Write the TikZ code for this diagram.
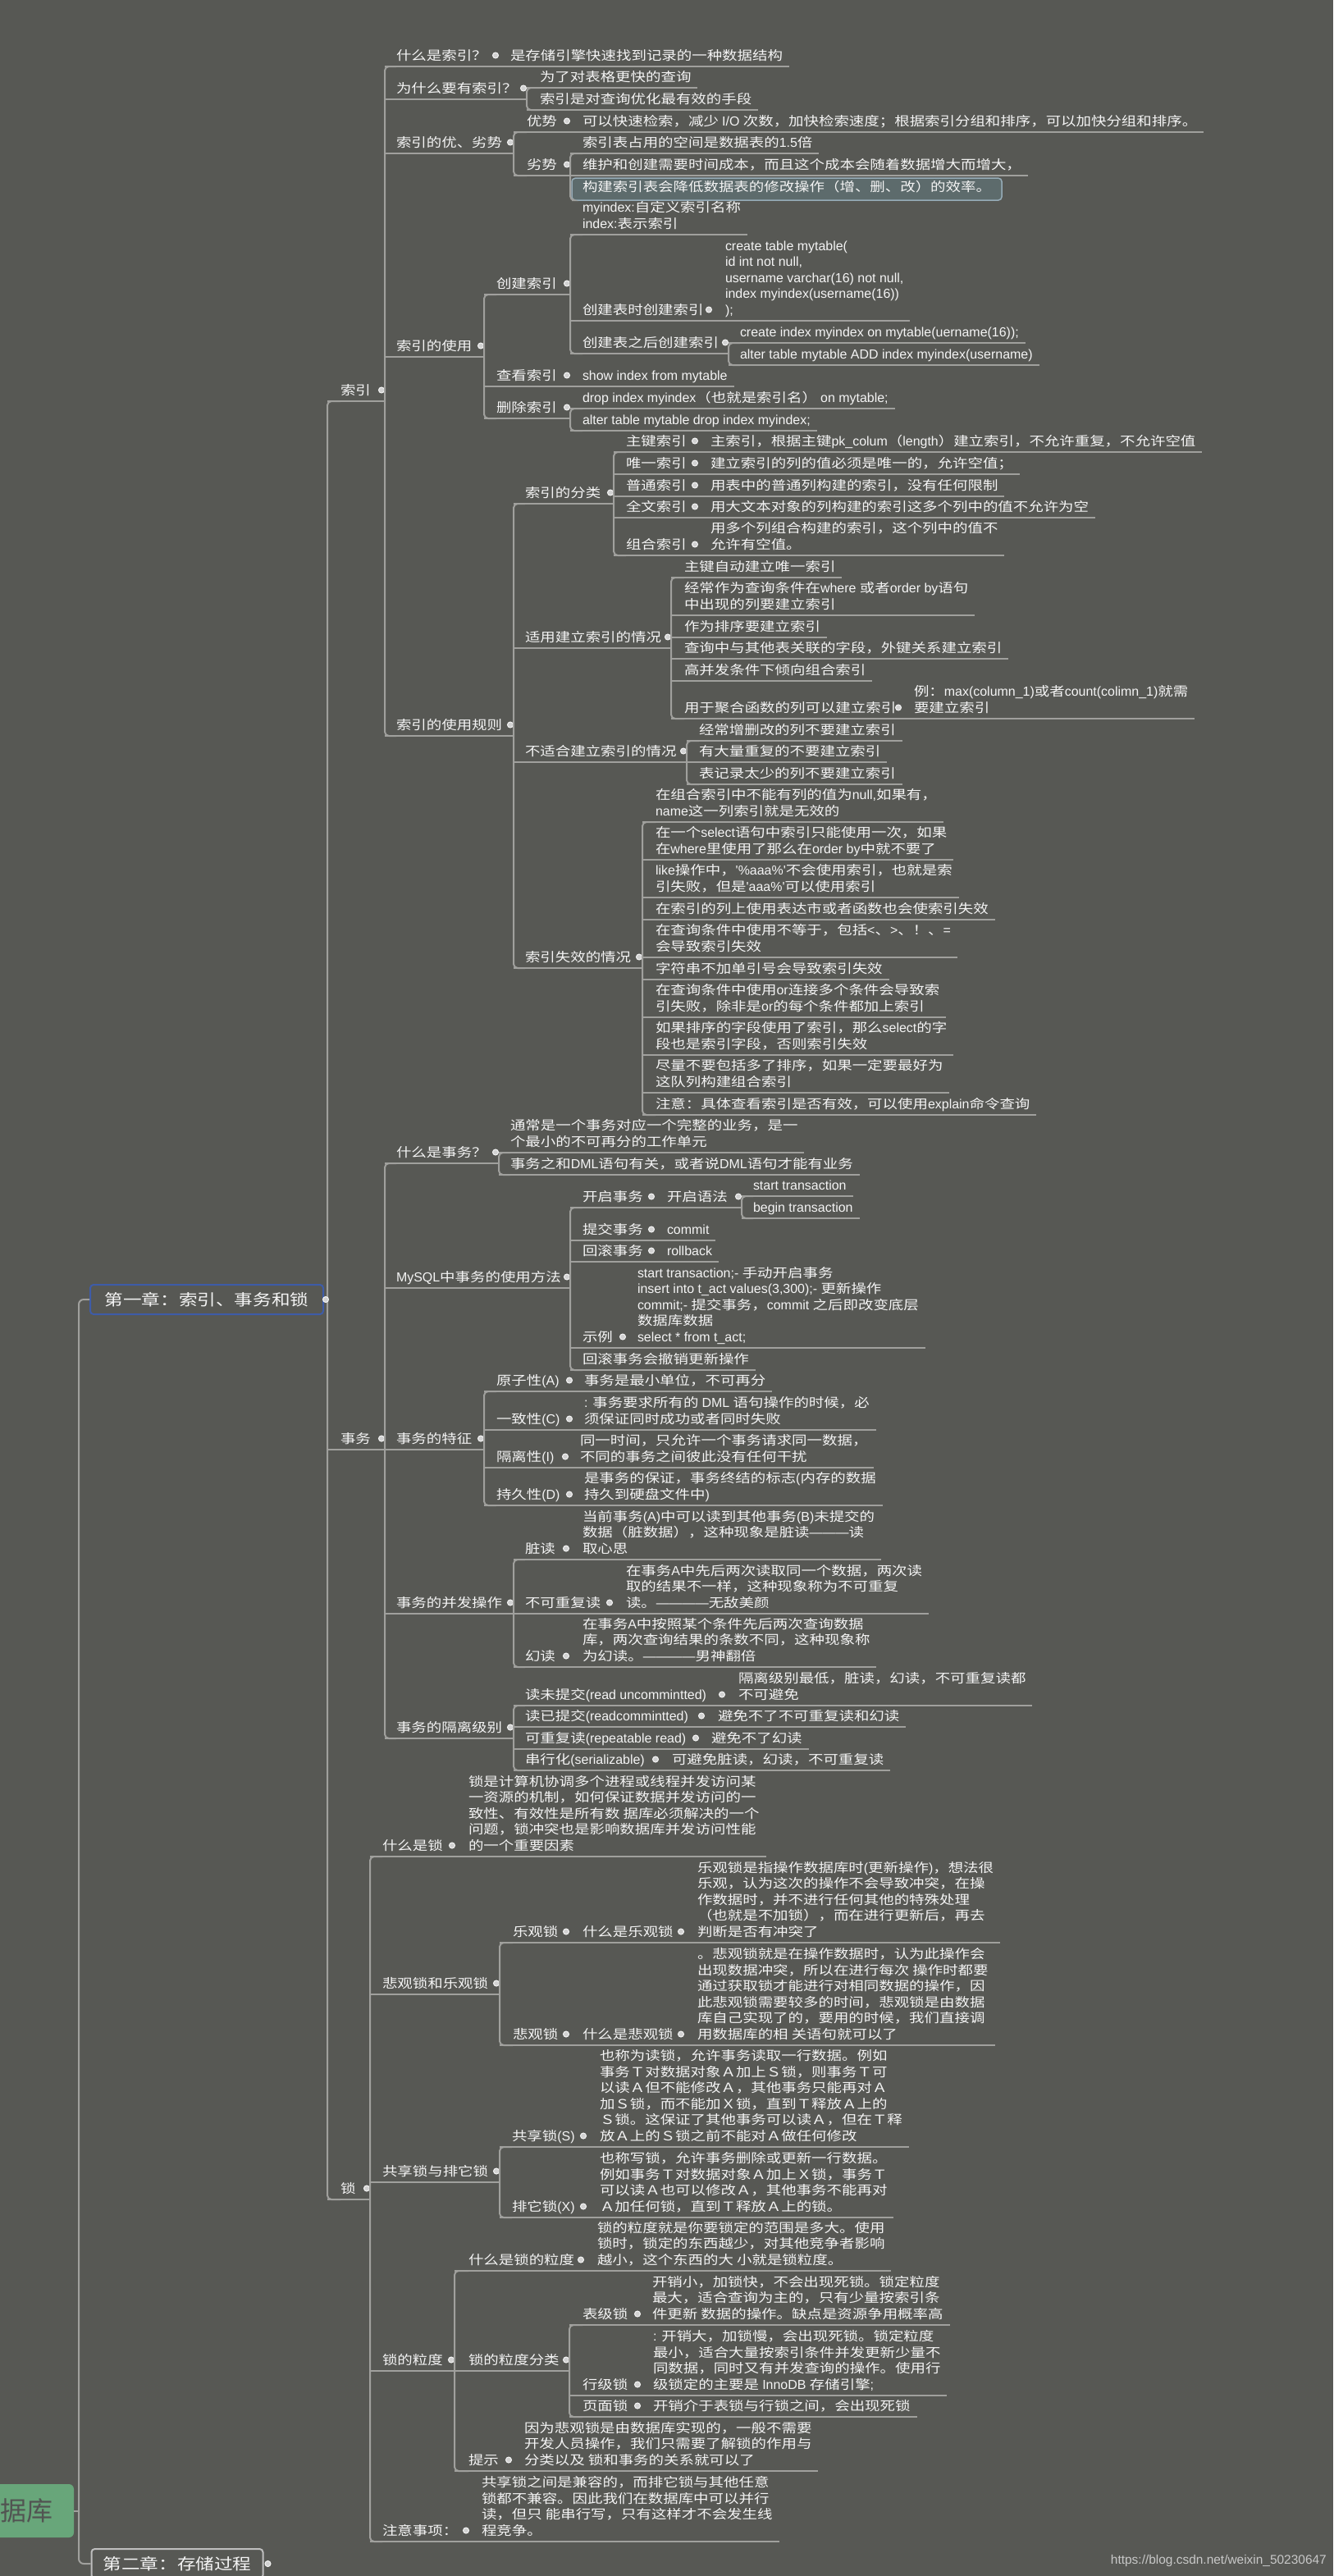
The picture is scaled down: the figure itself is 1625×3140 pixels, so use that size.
\documentclass[tikz,border=0pt]{standalone}
\usepackage{fontspec}
\setmainfont{Liberation Sans}
\newfontfamily\cjkf{Noto Sans CJK SC}[FakeStretch=1.19]
\newfontfamily\cjkr{Noto Sans CJK SC}
\newfontfamily\latf{Liberation Sans}[Scale=1.03]
\XeTeXinterchartokenstate=1
\newcount\cjkcnt
\cjkcnt="3000
\loop\XeTeXcharclass\cjkcnt=1\relax\ifnum\cjkcnt<"9FFF\advance\cjkcnt by 1\repeat
\cjkcnt="FF00
\loop\XeTeXcharclass\cjkcnt=1\relax\ifnum\cjkcnt<"FFEF\advance\cjkcnt by 1\repeat
\XeTeXinterchartoks 0 1 = {\cjkf}
\XeTeXinterchartoks 4095 1 = {\cjkf}
\XeTeXinterchartoks 1 0 = {\latf}
\XeTeXinterchartoks 4095 0 = {\latf}

\definecolor{bgc}{RGB}{87,88,84}
\definecolor{lnc}{RGB}{160,160,157}
\definecolor{txc}{RGB}{244,244,244}
\definecolor{dotf}{RGB}{210,210,210}
\definecolor{dotd}{RGB}{245,245,245}
\definecolor{selbg}{RGB}{93,107,108}
\definecolor{selbd}{RGB}{150,172,184}
\definecolor{chbd}{RGB}{62,92,168}
\definecolor{chbdb}{RGB}{190,190,190}
\definecolor{rootg}{RGB}{104,166,122}
\definecolor{roott}{RGB}{82,84,82}
\definecolor{wmc}{RGB}{200,200,200}

\tikzset{
  t/.style={anchor=south west, inner sep=0pt, outer sep=0pt, text=txc, align=left,
    font=\fontsize{15.5}{19.6}\selectfont,
    execute at end node={\rule[-7.5pt]{0pt}{7.5pt}}},
  ln/.style={draw=lnc, line width=2pt},
  dotn/.style={circle, draw=dotd, fill=dotf, line width=1pt, minimum size=7pt, inner sep=0pt},
  chap/.style={rounded corners=4pt, line width=2pt, fill=bgc, text=txc,
    font=\fontsize{19}{22}\selectfont, minimum height=36pt, inner sep=0pt},
}
\newcommand\mmT[4]{\node[t] (#1) at (#2,#3) {#4};}
\newcommand\mmL[2]{\draw[ln] (#2.south -| #1,0) -- ([xshift=8pt]#2.south east);}
\newcommand\mmP[3]{\draw[ln] (#2.south -| #1,0) -- (#2.south -| #3,0);
  \path (#2.south -| #3,0) ++(-4,-13.5) node[dotn] (#2d) {};}
\newcommand\mmS[3]{\draw[ln,rounded corners=5pt] (#2.south west) -- (#2.south -| #1,0) -- (#3.south -| #1,0) -- (#3.south west);}

\begin{document}
\begin{tikzpicture}[x=1pt,y=-1pt]
\useasboundingbox (0,0) rectangle (1625,3140);
\fill[bgc] (0,0) rectangle (1625,3140);

% ---------- root and chapters ----------
\node[rounded corners=6pt, fill=rootg, text=roott, minimum width=150pt, minimum height=65pt,
  text width=100pt, align=right, inner xsep=25pt, inner ysep=0pt,
  font={\XeTeXinterchartokenstate=0 \cjkr\fontsize{32}{38}\selectfont}] (root) at (15,3060.5) {据库};
\node[chap, draw=chbd, minimum width=284pt] (ch1) at (252,1584) {第一章：索引、事务和锁};
\node[chap, draw=chbdb, minimum width=209pt] (ch2) at (216,3125) {第二章：存储过程};
\draw[ln, rounded corners=6pt] (ch1.west) -- (ch1.west -| 96,0) -- (ch2.west -| 96,0) -- (ch2.west);
\draw[ln] (root.east) -- (root.east -| 96,0);
\node[dotn] (ch2d) at ([xshift=5pt]ch2.east) {};

% ---------- 索引 ----------
\mmT{n1}{415}{489}{索引}
\mmT{a1}{483}{81}{什么是索引？}
\mmT{a1c}{622}{81}{是存储引擎快速找到记录的一种数据结构}
\mmT{a2}{483}{121}{为什么要有索引？}
\mmT{a2a}{658}{107}{为了对表格更快的查询}
\mmT{a2b}{658}{134}{索引是对查询优化最有效的手段}
\mmT{a3}{483}{187}{索引的优、劣势}
\mmT{a3a}{642}{161}{优势}
\mmT{a3ac}{710}{161}{可以快速检索，减少 I/O 次数，加快检索速度；根据索引分组和排序，可以加快分组和排序。}
\mmT{a3b}{642}{214}{劣势}
\mmT{a3b1}{710}{187}{索引表占用的空间是数据表的1.5倍}
\mmT{a3b2}{710}{214}{维护和创建需要时间成本，而且这个成本会随着数据增大而增大，}
\node[t, fill=selbg, draw=selbd, line width=1.5pt, rounded corners=4pt, inner xsep=13pt, inner ysep=3pt] (a3b3) at (697,244) {构建索引表会降低数据表的修改操作（增、删、改）的效率。};
\mmT{a4}{483}{435}{索引的使用}
\mmT{a4a}{605}{359}{创建索引}
\mmT{a4a1}{710}{286}{myindex:自定义索引名称\\index:表示索引}
\mmT{a4a2}{710}{391}{创建表时创建索引}
\mmT{a4a2c}{884}{391}{create table  mytable(\\id int not null,\\username varchar(16) not null,\\index myindex(username(16))\\);}
\mmT{a4a3}{710}{431}{创建表之后创建索引}
\mmT{a4a3a}{902}{418}{create  index myindex on mytable(uername(16));}
\mmT{a4a3b}{902}{445}{alter table mytable ADD index myindex(username)}
\mmT{a4b}{605}{471}{查看索引}
\mmT{a4bc}{710}{471}{show index from  mytable}
\mmT{a4c}{605}{510}{删除索引}
\mmT{a4c1}{710}{498}{drop index myindex（也就是索引名） on mytable;}
\mmT{a4c2}{710}{525}{alter table mytable drop index myindex;}
\mmT{a5}{483}{897}{索引的使用规则}
\mmT{b1}{640}{614}{索引的分类}
\mmT{b11}{763}{551}{主键索引}
\mmT{b11c}{866}{551}{主索引，根据主键pk\_colum（length）建立索引，不允许重复，不允许空值}
\mmT{b12}{763}{578}{唯一索引}
\mmT{b12c}{866}{578}{建立索引的列的值必须是唯一的，允许空值；}
\mmT{b13}{763}{605}{普通索引}
\mmT{b13c}{866}{605}{用表中的普通列构建的索引，没有任何限制}
\mmT{b14}{763}{631}{全文索引}
\mmT{b14c}{866}{631}{用大文本对象的列构建的索引这多个列中的值不允许为空}
\mmT{b15}{763}{677}{组合索引}
\mmT{b15c}{866}{677}{用多个列组合构建的索引，这个列中的值不\\允许有空值。}
\mmT{b2}{640}{790}{适用建立索引的情况}
\mmT{b21}{834}{704}{主键自动建立唯一索引}
\mmT{b22}{834}{750}{经常作为查询条件在where 或者order by语句\\中出现的列要建立索引}
\mmT{b23}{834}{777}{作为排序要建立索引}
\mmT{b24}{834}{803}{查询中与其他表关联的字段，外键关系建立索引}
\mmT{b25}{834}{830}{高并发条件下倾向组合索引}
\mmT{b26}{834}{876}{用于聚合函数的列可以建立索引}
\mmT{b26c}{1114}{876}{例：max(column\_1)或者count(colimn\_1)就需\\要建立索引}
\mmT{b3}{640}{929}{不适合建立索引的情况}
\mmT{b31}{852}{903}{经常增删改的列不要建立索引}
\mmT{b32}{852}{929}{有大量重复的不要建立索引}
\mmT{b33}{852}{956}{表记录太少的列不要建立索引}
\mmT{b4}{640}{1180}{索引失效的情况}
\mmT{b41}{799}{1002}{在组合索引中不能有列的值为null,如果有，\\name这一列索引就是无效的}
\mmT{b42}{799}{1048}{在一个select语句中索引只能使用一次，如果\\在where里使用了那么在order by中就不要了}
\mmT{b43}{799}{1094}{like操作中，'\%aaa\%'不会使用索引，也就是索\\引失败，但是'aaa\%'可以使用索引}
\mmT{b44}{799}{1121}{在索引的列上使用表达市或者函数也会使索引失效}
\mmT{b45}{799}{1167}{在查询条件中使用不等于，包括<、>、！、=\\会导致索引失效}
\mmT{b46}{799}{1194}{字符串不加单引号会导致索引失效}
\mmT{b47}{799}{1240}{在查询条件中使用or连接多个条件会导致索\\引失败，除非是or的每个条件都加上索引}
\mmT{b48}{799}{1286}{如果排序的字段使用了索引，那么select的字\\段也是索引字段，否则索引失效}
\mmT{b49}{799}{1332}{尽量不要包括多了排序，如果一定要最好为\\这队列构建组合索引}
\mmT{b410}{799}{1359}{注意：具体查看索引是否有效，可以使用explain命令查询}

% ---------- 事务 ----------
\mmT{n2}{415}{1767}{事务}
\mmT{c1}{483}{1418}{什么是事务？}
\mmT{c1a}{622}{1405}{通常是一个事务对应一个完整的业务，是一\\个最小的不可再分的工作单元}
\mmT{c1b}{622}{1432}{事务之和DML语句有关，或者说DML语句才能有业务}
\mmT{c2}{483}{1570}{MySQL中事务的使用方法}
\mmT{c21}{710}{1472}{开启事务}
\mmT{c21a}{813}{1472}{开启语法}
\mmT{c21a1}{918}{1458}{start transaction}
\mmT{c21a2}{918}{1485}{begin transaction}
\mmT{c22}{710}{1512}{提交事务}
\mmT{c22c}{813}{1512}{commit}
\mmT{c23}{710}{1538}{回滚事务}
\mmT{c23c}{813}{1538}{rollback}
\mmT{c24}{710}{1643}{示例}
\mmT{c24c}{777}{1643}{start  transaction;- 手动开启事务\\insert into t\_act values(3,300);- 更新操作\\ commit;- 提交事务，commit 之后即改变底层\\数据库数据\\select * from t\_act;}
\mmT{c25}{710}{1670}{回滚事务会撤销更新操作}
\mmT{c3}{483}{1767}{事务的特征}
\mmT{c31}{605}{1696}{原子性(A)}
\mmT{c31c}{712}{1696}{事务是最小单位，不可再分}
\mmT{c32}{605}{1743}{一致性(C)}
\mmT{c32c}{712}{1743}{: 事务要求所有的 DML 语句操作的时候，必\\须保证同时成功或者同时失败}
\mmT{c33}{605}{1789}{隔离性(I)}
\mmT{c33c}{707}{1789}{同一时间，只允许一个事务请求同一数据，\\不同的事务之间彼此没有任何干扰}
\mmT{c34}{605}{1835}{持久性(D)}
\mmT{c34c}{712}{1835}{是事务的保证，事务终结的标志(内存的数据\\持久到硬盘文件中)}
\mmT{c4}{483}{1967}{事务的并发操作}
\mmT{c41}{640}{1901}{脏读}
\mmT{c41c}{710}{1901}{当前事务(A)中可以读到其他事务(B)未提交的\\数据（脏数据），这种现象是脏读———读\\取心思}
\mmT{c42}{640}{1967}{不可重复读}
\mmT{c42c}{763}{1967}{在事务A中先后两次读取同一个数据，两次读\\取的结果不一样，这种现象称为不可重复\\读。————无敌美颜}
\mmT{c43}{640}{2032}{幻读}
\mmT{c43c}{710}{2032}{在事务A中按照某个条件先后两次查询数据\\库，两次查询结果的条数不同，这种现象称\\为幻读。————男神翻倍}
\mmT{c5}{483}{2119}{事务的隔离级别}
\mmT{c51}{640}{2079}{读未提交(read  uncommintted)}
\mmT{c51c}{900}{2079}{隔离级别最低，脏读，幻读，不可重复读都\\不可避免}
\mmT{c52}{640}{2105}{读已提交(readcommintted)}
\mmT{c52c}{875}{2105}{避免不了不可重复读和幻读}
\mmT{c53}{640}{2132}{可重复读(repeatable read)}
\mmT{c53c}{867}{2132}{避免不了幻读}
\mmT{c54}{640}{2158}{串行化(serializable)}
\mmT{c54c}{819}{2158}{可避免脏读，幻读，不可重复读}

% ---------- 锁 ----------
\mmT{n3}{415}{2681}{锁}
\mmT{d1}{466}{2263}{什么是锁}
\mmT{d1c}{571}{2263}{锁是计算机协调多个进程或线程并发访问某\\一资源的机制，如何保证数据并发访问的一\\致性、有效性是所有数 据库必须解决的一个\\问题，锁冲突也是影响数据库并发访问性能\\的一个重要因素}
\mmT{d2}{466}{2431}{悲观锁和乐观锁}
\mmT{d21}{625}{2368}{乐观锁}
\mmT{d21a}{710}{2368}{什么是乐观锁}
\mmT{d21ac}{850}{2368}{乐观锁是指操作数据库时(更新操作)，想法很\\乐观，认为这次的操作不会导致冲突，在操\\作数据时，并不进行任何其他的特殊处理\\（也就是不加锁），而在进行更新后，再去\\判断是否有冲突了}
\mmT{d22}{625}{2493}{悲观锁}
\mmT{d22a}{710}{2493}{什么是悲观锁}
\mmT{d22ac}{850}{2493}{。悲观锁就是在操作数据时，认为此操作会\\出现数据冲突，所以在进行每次 操作时都要\\通过获取锁才能进行对相同数据的操作，因\\此悲观锁需要较多的时间，悲观锁是由数据\\库自己实现了的，要用的时候，我们直接调\\用数据库的相 关语句就可以了}
\mmT{d3}{466}{2660}{共享锁与排它锁}
\mmT{d31}{624}{2617}{共享锁(S)}
\mmT{d31c}{731}{2617}{也称为读锁，允许事务读取一行数据。例如\\事务Ｔ对数据对象Ａ加上Ｓ锁，则事务Ｔ可\\以读Ａ但不能修改Ａ，其他事务只能再对Ａ\\加Ｓ锁，而不能加Ｘ锁，直到Ｔ释放Ａ上的\\Ｓ锁。这保证了其他事务可以读Ａ，但在Ｔ释\\放Ａ上的Ｓ锁之前不能对Ａ做任何修改}
\mmT{d32}{624}{2703}{排它锁(X)}
\mmT{d32c}{731}{2703}{也称写锁，允许事务删除或更新一行数据。\\例如事务Ｔ对数据对象Ａ加上Ｘ锁，事务Ｔ\\可以读Ａ也可以修改Ａ，其他事务不能再对\\Ａ加任何锁，直到Ｔ释放Ａ上的锁。}
\mmT{d4}{466}{2890}{锁的粒度}
\mmT{d41}{571}{2768}{什么是锁的粒度}
\mmT{d41c}{728}{2768}{锁的粒度就是你要锁定的范围是多大。使用\\锁时，锁定的东西越少，对其他竞争者影响\\越小，这个东西的大 小就是锁粒度。}
\mmT{d42}{571}{2890}{锁的粒度分类}
\mmT{d421}{710}{2834}{表级锁}
\mmT{d421c}{795}{2834}{开销小，加锁快，不会出现死锁。锁定粒度\\最大，适合查询为主的，只有少量按索引条\\件更新 数据的操作。缺点是资源争用概率高}
\mmT{d422}{710}{2920}{行级锁}
\mmT{d422c}{796}{2920}{: 开销大，加锁慢，会出现死锁。锁定粒度\\最小，适合大量按索引条件并发更新少量不\\同数据，同时又有并发查询的操作。使用行\\级锁定的主要是 InnoDB 存储引擎;}
\mmT{d423}{710}{2946}{页面锁}
\mmT{d423c}{796}{2946}{开销介于表锁与行锁之间，会出现死锁}
\mmT{d43}{571}{3012}{提示}
\mmT{d43c}{639}{3012}{因为悲观锁是由数据库实现的，一般不需要\\开发人员操作，我们只需要了解锁的作用与\\分类以及 锁和事务的关系就可以了}
\mmT{d5}{466}{3098}{注意事项：}
\mmT{d5c}{587}{3098}{共享锁之间是兼容的，而排它锁与其他任意\\锁都不兼容。因此我们在数据库中可以并行\\读，但只 能串行写，只有这样才不会发生线\\程竞争。}

% ---------- connectors: 第一章 ----------
\mmS{399}{n1}{n3}
\node[dotn] (ch1d) at ([xshift=2pt]ch1.east) {};
% 索引
\mmP{399}{n1}{469}
\mmS{469}{a1}{a5}
\mmP{469}{a1}{608} \mmL{608}{a1c}
\mmP{469}{a2}{642} \mmS{642}{a2a}{a2b} \mmL{642}{a2a} \mmL{642}{a2b}
\mmP{469}{a3}{626} \mmS{626}{a3a}{a3b}
\mmP{626}{a3a}{695} \mmL{695}{a3ac}
\mmP{626}{a3b}{695} \mmS{695}{a3b1}{a3b3} \mmL{695}{a3b1} \mmL{695}{a3b2}
\mmP{469}{a4}{590} \mmS{590}{a4a}{a4c}
\mmP{590}{a4a}{695} \mmS{695}{a4a1}{a4a3} \mmL{695}{a4a1}
\mmP{695}{a4a2}{868} \mmL{868}{a4a2c}
\mmP{695}{a4a3}{888} \mmS{888}{a4a3a}{a4a3b} \mmL{888}{a4a3a} \mmL{888}{a4a3b}
\mmP{590}{a4b}{695} \mmL{695}{a4bc}
\mmP{590}{a4c}{695} \mmS{695}{a4c1}{a4c2} \mmL{695}{a4c1} \mmL{695}{a4c2}
\mmP{469}{a5}{626} \mmS{626}{b1}{b4}
\mmP{626}{b1}{748} \mmS{748}{b11}{b15}
\mmP{748}{b11}{851} \mmL{851}{b11c}
\mmP{748}{b12}{851} \mmL{851}{b12c}
\mmP{748}{b13}{851} \mmL{851}{b13c}
\mmP{748}{b14}{851} \mmL{851}{b14c}
\mmP{748}{b15}{851} \mmL{851}{b15c}
\mmP{626}{b2}{818} \mmS{818}{b21}{b26}
\mmL{818}{b21} \mmL{818}{b22} \mmL{818}{b23} \mmL{818}{b24} \mmL{818}{b25}
\mmP{818}{b26}{1099} \mmL{1099}{b26c}
\mmP{626}{b3}{837} \mmS{837}{b31}{b33}
\mmL{837}{b31} \mmL{837}{b32} \mmL{837}{b33}
\mmP{626}{b4}{783} \mmS{783}{b41}{b410}
\mmL{783}{b41} \mmL{783}{b42} \mmL{783}{b43} \mmL{783}{b44} \mmL{783}{b45}
\mmL{783}{b46} \mmL{783}{b47} \mmL{783}{b48} \mmL{783}{b49} \mmL{783}{b410}
% 事务
\mmP{399}{n2}{469} \mmS{469}{c1}{c5}
\mmP{469}{c1}{608} \mmS{608}{c1a}{c1b} \mmL{608}{c1a} \mmL{608}{c1b}
\mmP{469}{c2}{695} \mmS{695}{c21}{c25}
\mmP{695}{c21}{798} \mmP{798}{c21a}{904} \mmS{904}{c21a1}{c21a2} \mmL{904}{c21a1} \mmL{904}{c21a2}
\mmP{695}{c22}{798} \mmL{798}{c22c}
\mmP{695}{c23}{798} \mmL{798}{c23c}
\mmP{695}{c24}{763} \mmL{763}{c24c}
\mmL{695}{c25}
\mmP{469}{c3}{590} \mmS{590}{c31}{c34}
\mmP{590}{c31}{698} \mmL{698}{c31c}
\mmP{590}{c32}{698} \mmL{698}{c32c}
\mmP{590}{c33}{693} \mmL{693}{c33c}
\mmP{590}{c34}{698} \mmL{698}{c34c}
\mmP{469}{c4}{626} \mmS{626}{c41}{c43}
\mmP{626}{c41}{694} \mmL{694}{c41c}
\mmP{626}{c42}{747} \mmL{747}{c42c}
\mmP{626}{c43}{694} \mmL{694}{c43c}
\mmP{469}{c5}{626} \mmS{626}{c51}{c54}
\mmP{626}{c51}{884} \mmL{884}{c51c}
\mmP{626}{c52}{859} \mmL{859}{c52c}
\mmP{626}{c53}{852} \mmL{852}{c53c}
\mmP{626}{c54}{803} \mmL{803}{c54c}
% 锁
\mmP{399}{n3}{451} \mmS{451}{d1}{d5}
\mmP{451}{d1}{555} \mmL{555}{d1c}
\mmP{451}{d2}{609} \mmS{609}{d21}{d22}
\mmP{609}{d21}{694} \mmP{694}{d21a}{834} \mmL{834}{d21ac}
\mmP{609}{d22}{694} \mmP{694}{d22a}{834} \mmL{834}{d22ac}
\mmP{451}{d3}{609} \mmS{609}{d31}{d32}
\mmP{609}{d31}{715} \mmL{715}{d31c}
\mmP{609}{d32}{715} \mmL{715}{d32c}
\mmP{451}{d4}{554} \mmS{554}{d41}{d43}
\mmP{554}{d41}{712} \mmL{712}{d41c}
\mmP{554}{d42}{694} \mmS{694}{d421}{d423}
\mmP{694}{d421}{781} \mmL{781}{d421c}
\mmP{694}{d422}{781} \mmL{781}{d422c}
\mmP{694}{d423}{781} \mmL{781}{d423c}
\mmP{554}{d43}{624} \mmL{624}{d43c}
\mmP{451}{d5}{572} \mmL{572}{d5c}

% watermark
\node[anchor=east, inner sep=0pt, text=wmc, font=\fontsize{15}{18}\selectfont] (wm) at (1617,3121) {https://blog.csdn.net/weixin\_50230647};
\end{tikzpicture}
\end{document}
